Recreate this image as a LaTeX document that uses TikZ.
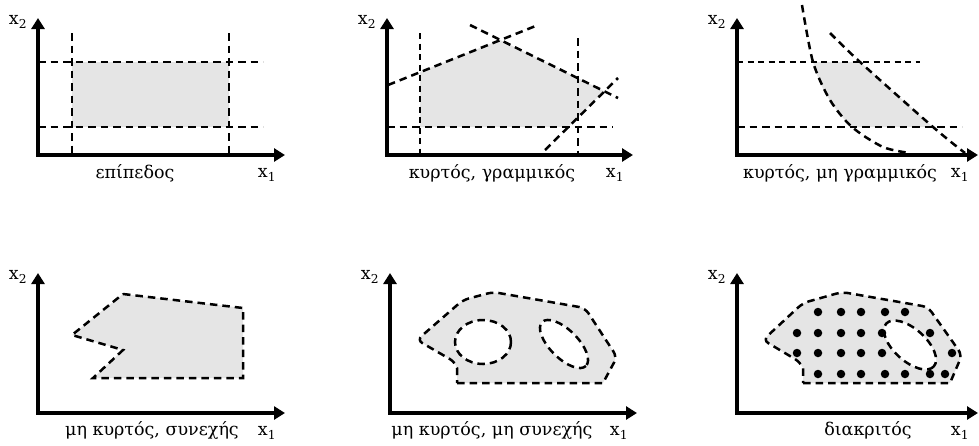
\documentclass[tikz,border=0pt]{standalone}
\usepackage{fontspec}
\setmainfont{DejaVu Serif}
\usetikzlibrary{arrows.meta}

\begin{document}
\begin{tikzpicture}[
  x=1pt,y=-1pt,
  axis/.style={line width=3.6pt,{Triangle[length=11pt,width=13pt]}-{Triangle[length=11pt,width=13pt]}},
  bound/.style={line width=2.5pt,dash pattern=on 7.5pt off 5pt},
  thinbound/.style={line width=1.3pt,dash pattern=on 6pt off 4.5pt},
  region/.style={fill=black!10},
  hole/.style={bound,fill=white},
  lbl/.style={font=\fontsize{17.5}{20}\selectfont,inner sep=0pt},
  dot/.style={circle,fill=black,inner sep=0pt,minimum size=8.5pt}
]
  \useasboundingbox (0,0) rectangle (979,445);

  % axes of the six panels
  \foreach \n/\ox/\oy/\tx/\ty in {a/38/155/285/18,b/387/155/633/18,c/737/155/978/18,
                                  d/38/413/285/273,e/390/413/637/273,f/737/413/978/273} {
    \coordinate (o\n) at (\ox,\oy);
    \coordinate (ytip\n) at (\ox,\ty);
    \coordinate (xtip\n) at (\tx,\oy);
    \draw[axis] (ytip\n) -- (o\n) -- (xtip\n);
    \node[lbl] (xtwo\n) at (\ox-20,\ty+4) {x\textsubscript{2}};
    \node[lbl] (xone\n) at (\tx-18,\oy+20) {x\textsubscript{1}};
  }

  % panel 1
  \fill[region] (72,62) rectangle (229,127);
  \draw[bound] (72,33) -- (72,155);
  \draw[bound] (229,33) -- (229,155);
  \draw[bound] (38,62) -- (263,62);
  \draw[bound] (38,127) -- (263,127);
  \node[lbl] (lab1) at (135,173) {επίπεδος};

  % panel 2
  \fill[region] (420,127) -- (420,72) -- (500,40) -- (604,91) -- (568,127) -- cycle;
  \draw[thinbound] (420,33) -- (420,155);
  \draw[bound] (578,38) -- (578,155);
  \draw[bound] (387,127) -- (613,127);
  \draw[bound] (388,85) -- (538,25);
  \draw[bound] (470,25) -- (618,98);
  \draw[bound] (545,150) -- (618,78);
  \node[lbl] (lab2) at (492,173) {κυρτός, γραμμικός};

  % panel 3
  \fill[region] (813,62) -- (860,62) -- (933,127) -- (852,127)
    .. controls (836,112) and (820,90) .. cycle;
  \draw[thinbound] (737,62) -- (920,62);
  \draw[bound] (737,127) -- (962,127);
  \draw[bound] plot[smooth] coordinates {(802,5) (813,62) (830,100) (852,127) (883,147) (910,153)};
  \draw[bound] plot[smooth] coordinates {(830,33) (860,62) (933,127) (965,153)};
  \node[lbl] (lab3) at (840,173) {κυρτός, μη γραμμικός};

  % panel 4
  \filldraw[region,bound] (123,294) -- (243,308) -- (243,378) -- (93,378)
    -- (123,350) -- (72,335) -- cycle;
  \node[lbl] (lab4) at (152,430) {μη κυρτός, συνεχής};

  % panel 5
  \filldraw[region,bound] (457,383) -- (603,383) [rounded corners=6pt] -- (617,357)
    -- (585,308) -- (493,292) -- (463,300) -- (417,340) -- (455,362)
    [sharp corners] -- (457,368) -- cycle;
  \draw[hole] (483,342) ellipse (28 and 22);
  \draw[hole,rotate around={-45:(564,344)}] (564,344) ellipse (31 and 14);
  \node[lbl] (lab5) at (492,430) {μη κυρτός, μη συνεχής};

  % panel 6
  \filldraw[region,bound] (803,383) -- (950,383) [rounded corners=6pt] -- (962,355)
    -- (928,307) -- (842,292) -- (803,303) -- (763,340) -- (800,362)
    [sharp corners] -- (803,368) -- cycle;
  \draw[hole,rotate around={-42:(910,345)}] (910,345) ellipse (32 and 16);
  \foreach \px/\py [count=\i] in {818/312,841/312,861/312,885/312,905/312,
      797/333,818/333,841/333,861/333,882/333,930/333,
      797/353,818/353,841/353,861/353,882/353,952/353,
      818/374,841/374,861/374,885/374,905/374,930/374,945/374}
    \node[dot] (pt\i) at (\px,\py) {};
  \node[lbl] (lab6) at (868,430) {διακριτός};
\end{tikzpicture}
\end{document}
